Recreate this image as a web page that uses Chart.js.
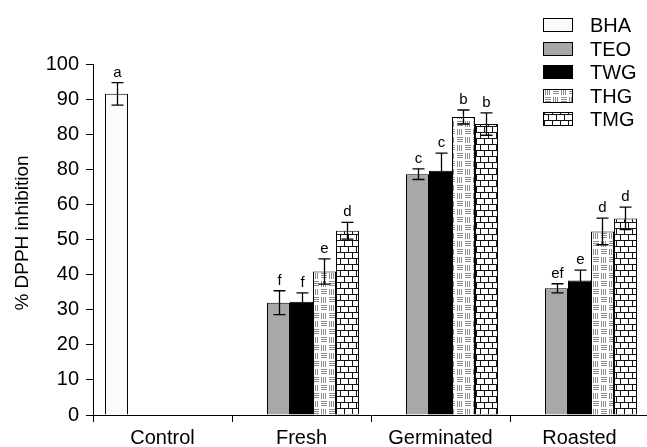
<!DOCTYPE html>
<html>
<head>
<meta charset="utf-8">
<script src="https://cdn.jsdelivr.net/npm/chart.js@4/dist/chart.umd.min.js"></script>
<style>
  html, body { margin: 0; padding: 0; background: #fff; overflow: hidden; }
  #wrap { width: 649px; height: 447px; }
</style>
</head>
<body>
<div id="wrap"><canvas id="myChart" width="649" height="447"></canvas></div>
<script>
// categories and tick labels as printed on the figure
var categories = ['Control', 'Fresh', 'Germinated', 'Roasted'];
var yTickLabels = ['0', '10', '20', '30', '40', '50', '60', '80', '80', '90', '100'];

// means (% DPPH inhibition)
var bha = [91.5, null, null, null];
var teo = [null, 32.0, 68.6, 36.1];
var twg = [null, 32.3, 69.6, 38.3];
var thg = [null, 40.9, 84.9, 52.3];
var tmg = [null, 52.5, 82.9, 56.0];

// error bar half widths
var bhaErr = [3.2, null, null, null];
var teoErr = [null, 3.4, 1.5, 1.3];
var twgErr = [null, 2.5, 5.0, 3.0];
var thgErr = [null, 3.6, 2.0, 3.8];
var tmgErr = [null, 2.4, 3.2, 3.2];

// significance letters
var bhaLetters = ['a', null, null, null];
var teoLetters = [null, 'f', 'c', 'ef'];
var twgLetters = [null, 'f', 'c', 'e'];
var thgLetters = [null, 'e', 'b', 'd'];
var tmgLetters = [null, 'd', 'b', 'd'];

var FONT = '"Liberation Sans", Arial, sans-serif';

// little hatch made of horizontal and vertical line blocks
function hatchPattern() {
  var c = document.createElement('canvas');
  c.width = 16; c.height = 16;
  var g = c.getContext('2d');
  g.fillStyle = '#fff';
  g.fillRect(0, 0, 16, 16);
  g.fillStyle = '#8a8a8a';
  for (var k = 0; k < 3; k++) {
    g.fillRect(1, 1 + k * 2, 6, 1);       // top left: horizontal
    g.fillRect(9 + k * 2, 1, 1, 6);       // top right: vertical
    g.fillRect(1 + k * 2, 9, 1, 6);       // bottom left: vertical
    g.fillRect(9, 9 + k * 2, 6, 1);       // bottom right: horizontal
  }
  return g.createPattern(c, 'repeat');
}

// brick wall
function brickPattern() {
  var c = document.createElement('canvas');
  c.width = 16; c.height = 12;
  var g = c.getContext('2d');
  g.fillStyle = '#fff';
  g.fillRect(0, 0, 16, 12);
  g.fillStyle = '#111';
  g.fillRect(0, 0, 16, 1);
  g.fillRect(0, 6, 16, 1);
  g.fillRect(0, 0, 1, 6);
  g.fillRect(8, 0, 1, 6);
  g.fillRect(4, 6, 1, 6);
  g.fillRect(12, 6, 1, 6);
  return g.createPattern(c, 'repeat');
}

var errors = [bhaErr, teoErr, twgErr, thgErr, tmgErr];
var letters = [bhaLetters, teoLetters, twgLetters, thgLetters, tmgLetters];

var errorBars = {
  id: 'errorBars',
  afterDatasetsDraw: function (chart) {
    var ctx = chart.ctx;
    var yScale = chart.scales.y;
    ctx.save();
    ctx.strokeStyle = '#000';
    ctx.lineWidth = 1.3;
    ctx.fillStyle = '#000';
    ctx.font = '15px ' + FONT;
    ctx.textAlign = 'center';
    ctx.textBaseline = 'alphabetic';
    chart.data.datasets.forEach(function (ds, i) {
      var meta = chart.getDatasetMeta(i);
      meta.data.forEach(function (bar, j) {
        var v = ds.data[j];
        if (v == null) return;
        var e = errors[i][j];
        var x = Math.round(bar.x) + 0.5;
        var top = yScale.getPixelForValue(v + e);
        var bot = yScale.getPixelForValue(v - e);
        ctx.beginPath();
        ctx.moveTo(x, bot); ctx.lineTo(x, top);
        ctx.moveTo(x - 6, top); ctx.lineTo(x + 6, top);
        ctx.moveTo(x - 6, bot); ctx.lineTo(x + 6, bot);
        ctx.stroke();
        if (letters[i][j]) ctx.fillText(letters[i][j], x, top - 6);
      });
    });
    ctx.restore();
  },
  afterDraw: function (chart) {
    var ctx = chart.ctx;
    ctx.save();
    // y axis title
    ctx.fillStyle = '#000';
    ctx.font = '19px ' + FONT;
    ctx.textAlign = 'center';
    ctx.textBaseline = 'middle';
    ctx.translate(23, 233);
    ctx.rotate(-Math.PI / 2);
    ctx.fillText('% DPPH inhibition', 0, 0);
    ctx.restore();

    // legend
    ctx.save();
    ctx.font = '20px ' + FONT;
    ctx.textAlign = 'left';
    ctx.textBaseline = 'middle';
    chart.data.datasets.forEach(function (ds, i) {
      var y = 18 + Math.round(i * 23.5);
      ctx.fillStyle = ds.backgroundColor;
      ctx.fillRect(543, y, 30, 14);
      ctx.strokeStyle = '#000';
      ctx.lineWidth = 1;
      ctx.strokeRect(543.5, y + 0.5, 29, 13);
      ctx.fillStyle = '#000';
      ctx.fillText(ds.label, 590, y + 8);
    });
    ctx.restore();
  }
};

var ctx = document.getElementById('myChart');

function makeSet(label, data, fill) {
  return {
    label: label,
    data: data,
    backgroundColor: fill,
    borderColor: '#000',
    borderWidth: 1,
    categoryPercentage: 0.827,
    barPercentage: 1.0
  };
}

var myChart = new Chart(ctx, {
  type: 'bar',
  data: {
    labels: categories,
    datasets: [
      makeSet('BHA', bha, '#fbfbfb'),
      makeSet('TEO', teo, '#a8a8a8'),
      makeSet('TWG', twg, '#000000'),
      makeSet('THG', thg, hatchPattern()),
      makeSet('TMG', tmg, brickPattern())
    ]
  },
  options: {
    responsive: false,
    animation: false,
    layout: { padding: { top: 64, left: 0, right: 0, bottom: 0 } },
    plugins: {
      legend: { display: false },
      tooltip: { enabled: false }
    },
    scales: {
      x: {
        grid: { offset: true, drawOnChartArea: false, color: '#000', tickLength: 7, tickWidth: 1 },
        border: { color: '#000', width: 1 },
        ticks: { color: '#000', font: { family: FONT, size: 20 }, padding: 4 },
        afterFit: function (s) { s.height = 32; }
      },
      y: {
        min: 0,
        max: 100,
        grid: { drawOnChartArea: false, color: '#000', tickLength: 7, tickWidth: 1 },
        border: { color: '#000', width: 1 },
        ticks: {
          stepSize: 10,
          autoSkip: false,
          color: '#000',
          padding: 7,
          font: { family: FONT, size: 20 },
          callback: function (value) { return yTickLabels[Math.round(value / 10)]; }
        },
        afterFit: function (s) { s.width = 93; }
      }
    }
  },
  plugins: [errorBars]
});
</script>
</body>
</html>
